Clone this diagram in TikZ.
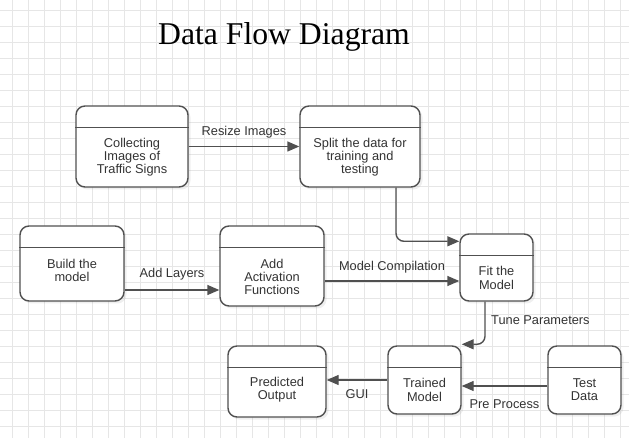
\documentclass[tikz,border=0pt]{standalone}
\usepackage{fontspec}
\setmainfont{Liberation Sans}
\newfontfamily\titlefont{Liberation Serif}
\usetikzlibrary{arrows.meta,shadows}
\definecolor{linec}{HTML}{505050}
\definecolor{txtc}{HTML}{333333}
\definecolor{gridc}{HTML}{E6E6E6}
\begin{document}
\begin{tikzpicture}[x=1pt,y=-1pt,
  box/.style={draw=linec, line width=1.4pt, rounded corners=9pt, fill=white, inner sep=0pt,
    drop shadow={shadow xshift=2.5pt, shadow yshift=-2.5pt, opacity=0.12}},
  hdr/.style={draw=linec, line width=1.4pt},
  txt/.style={text=txtc, font=\fontsize{12.8}{13.3}\selectfont, align=center, inner sep=0pt},
  conn/.style={draw=linec, line width=1.4pt, -{Triangle[length=12pt,width=10pt]}},
  lab/.style={text=txtc, font=\fontsize{12.8}{14}\selectfont, inner sep=0pt}]
\useasboundingbox (0,0) rectangle (629,438);
\fill[white] (0,0) rectangle (629,438);
\foreach \x in {12,28,...,628} \draw[gridc, line width=0.8pt] (\x,0) -- (\x,438);
\foreach \y in {10,26,...,437} \draw[gridc, line width=0.8pt] (0,\y) -- (629,\y);

\node[text=black, font=\titlefont\fontsize{31.7}{36}\selectfont] (title) at (284,37) {Data Flow Diagram};

% boxes
\node[box, minimum width=112pt, minimum height=81pt] (collect) at (132,146.5) {};
\node[box, minimum width=120pt, minimum height=81pt] (split) at (360,146.5) {};
\node[box, minimum width=104pt, minimum height=75pt] (build) at (72,263.5) {};
\node[box, minimum width=104pt, minimum height=80pt] (act) at (272,266) {};
\node[box, minimum width=73pt, minimum height=67pt] (fit) at (496.5,267.5) {};
\node[box, minimum width=98pt, minimum height=71pt] (pred) at (277,381.5) {};
\node[box, minimum width=73pt, minimum height=68pt] (trained) at (424.5,380) {};
\node[box, minimum width=73pt, minimum height=68pt] (test) at (584.5,380) {};

\foreach \n in {collect,split,build,act,fit,pred,trained,test}
  \draw[hdr] ([yshift=-22pt]\n.north west) -- ([yshift=-22pt]\n.north east);

% box texts
\node[txt] (collect-t) at (132,157) {Collecting\\Images of\\Traffic Signs};
\node[txt] (split-t) at (360,157) {Split the data for\\training and\\testing};
\node[txt] (build-t) at (72,270.5) {Build the\\model};
\node[txt] (act-t) at (272,277) {Add\\Activation\\Functions};
\node[txt] (fit-t) at (496.5,278) {Fit the\\Model};
\node[txt] (pred-t) at (277,390) {Predicted\\Output};
\node[txt] (trained-t) at (424.5,390) {Trained\\Model};
\node[txt] (test-t) at (584.5,390) {Test\\Data};

% connectors
\draw[conn] (collect.east) -- node[lab, midway, yshift=14.5pt] (l-resize) {Resize Images} (split.west);
\draw[conn, rounded corners=8pt] (split.south -| 396,0) |- ([yshift=-8pt]fit.north west);
\draw[conn] (build.east |- 0,290) -- node[lab, midway, yshift=15.5pt] (l-layers) {Add Layers} (act.west |- 0,290);
\draw[conn] (act.east |- 0,281) -- node[lab, midway, yshift=14pt] (l-comp) {Model Compilation} (fit.west |- 0,281);
\draw[conn, rounded corners=8pt] (fit.south -| 485,0) |- ([yshift=1pt]trained.north east);
\node[lab, anchor=west] (l-tune) at (491,320) {Tune Parameters};
\draw[conn] (trained.west |- 0,380) -- node[lab, midway, yshift=-14pt] (l-gui) {GUI} (pred.east |- 0,380);
\draw[conn] (test.west |- 0,386) -- node[lab, midway, yshift=-18.5pt] (l-pre) {Pre Process} (trained.east |- 0,386);
\end{tikzpicture}
\end{document}
